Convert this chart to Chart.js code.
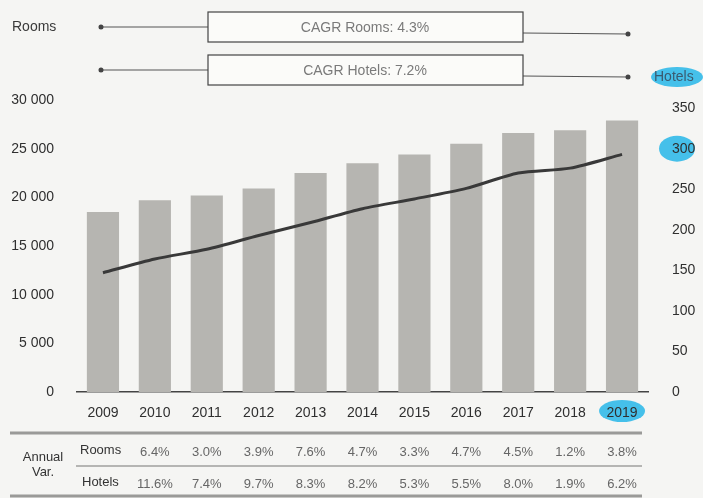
<!DOCTYPE html>
<html>
<head>
<meta charset="utf-8">
<title>Rooms e Hotels</title>
<script src="https://cdn.jsdelivr.net/npm/chart.js"></script>
<style>
    body {
        margin: 0;
        padding: 0;
        background: #f5f5f3;
    }
    #caixa {
        width: 703px;
        height: 498px;
    }
</style>
</head>
<body>
<div id="caixa"><canvas id="grafico" width="703" height="498"></canvas></div>

<script>
// Dados
const anos = ['2009', '2010', '2011', '2012', '2013', '2014', '2015', '2016', '2017', '2018', '2019'];
const quartos = [18500, 19700, 20200, 20900, 22500, 23500, 24400, 25500, 26600, 26900, 27900];
const hoteis = [147, 164, 176, 193, 209, 226, 238, 251, 270, 276, 293];
const varQuartos = ['', '6.4%', '3.0%', '3.9%', '7.6%', '4.7%', '3.3%', '4.7%', '4.5%', '1.2%', '3.8%'];
const varHoteis = ['', '11.6%', '7.4%', '9.7%', '8.3%', '8.2%', '5.3%', '5.5%', '8.0%', '1.9%', '6.2%'];
const ticksQuartos = [0, 5000, 10000, 15000, 20000, 25000, 30000];
const ticksHoteis = [0, 50, 100, 150, 200, 250, 300, 350];
const textoCagrQuartos = 'CAGR Rooms: 4.3%';
const textoCagrHoteis = 'CAGR Hotels: 7.2%';

const fonte = '"Liberation Sans", Arial, sans-serif';
const marcador = 'rgba(38, 182, 232, 0.85)';

function elipse(ctx, x, y, rx, ry) {
    ctx.save();
    ctx.fillStyle = marcador;
    ctx.beginPath();
    ctx.ellipse(x, y, rx, ry, 0, 0, Math.PI * 2);
    ctx.fill();
    ctx.restore();
}

// Plugin: fundo, marcas de marca-texto, caixas CAGR e tabela de variação
const extras = {
    id: 'extras',
    beforeDraw(chart) {
        const ctx = chart.ctx;
        const x = chart.scales.x;
        const yh = chart.scales.yHoteis;
        ctx.save();
        ctx.fillStyle = '#f5f5f3';
        ctx.fillRect(0, 0, chart.width, chart.height);
        ctx.restore();
        // marca-texto sob "300" e "2019"
        elipse(ctx, yh.left + 29, yh.getPixelForValue(300), 18, 13);
        elipse(ctx, x.getPixelForValue(anos.length - 1), x.top + 19, 23, 11);
    },
    afterDraw(chart) {
        const ctx = chart.ctx;
        const x = chart.scales.x;
        ctx.save();

        // títulos dos eixos
        ctx.font = '14px ' + fonte;
        ctx.fillStyle = '#3a3a3a';
        ctx.textBaseline = 'middle';
        ctx.textAlign = 'left';
        ctx.fillText('Rooms', 12, 27);
        elipse(ctx, 677, 77, 26, 10);
        ctx.fillStyle = '#3a5a70';
        ctx.fillText('Hotels', 654, 77);

        // caixas CAGR com linhas e pontos
        const linhas = [[27, textoCagrQuartos], [70, textoCagrHoteis]];
        linhas.forEach(function (l) {
            const y = l[0];
            ctx.strokeStyle = '#555';
            ctx.lineWidth = 1.2;
            ctx.beginPath();
            ctx.moveTo(101, y);
            ctx.lineTo(208, y);
            ctx.moveTo(523, y + 6);
            ctx.lineTo(628, y + 7);
            ctx.stroke();
            ctx.fillStyle = '#444';
            ctx.beginPath();
            ctx.arc(101, y, 2.5, 0, Math.PI * 2);
            ctx.arc(628, y + 7, 2.5, 0, Math.PI * 2);
            ctx.fill();
            ctx.fillStyle = '#fbfbf9';
            ctx.fillRect(208, y - 15, 315, 30);
            ctx.strokeStyle = '#444';
            ctx.strokeRect(208, y - 15, 315, 30);
            ctx.fillStyle = '#7a7a7a';
            ctx.font = '14px ' + fonte;
            ctx.textAlign = 'center';
            ctx.fillText(l[1], 365, y + 1);
            ctx.textAlign = 'left';
        });

        // tabela de variação anual
        ctx.strokeStyle = '#9a9a98';
        ctx.lineWidth = 3;
        ctx.beginPath();
        ctx.moveTo(10, 433);
        ctx.lineTo(642, 433);
        ctx.moveTo(10, 496);
        ctx.lineTo(642, 496);
        ctx.stroke();
        ctx.strokeStyle = '#b5b5b3';
        ctx.lineWidth = 2;
        ctx.beginPath();
        ctx.moveTo(76, 466);
        ctx.lineTo(642, 466);
        ctx.stroke();

        ctx.font = '13px ' + fonte;
        ctx.fillStyle = '#333';
        ctx.textAlign = 'center';
        ctx.fillText('Annual', 43, 457);
        ctx.fillText('Var.', 43, 472);
        ctx.textAlign = 'left';
        ctx.fillText('Rooms', 80, 450);
        ctx.fillText('Hotels', 82, 482);

        ctx.fillStyle = '#666';
        ctx.textAlign = 'center';
        for (let i = 1; i < anos.length; i++) {
            const px = x.getPixelForValue(i);
            ctx.fillText(varQuartos[i], px, 452);
            ctx.fillText(varHoteis[i], px, 484);
        }
        ctx.restore();
    }
};

const ctx = document.getElementById('grafico').getContext('2d');
new Chart(ctx, {
    data: {
        labels: anos,
        datasets: [{
            type: 'line',
            label: 'Hotels',
            data: hoteis,
            yAxisID: 'yHoteis',
            borderColor: '#393939',
            borderWidth: 3,
            pointRadius: 0,
            tension: 0.25,
            order: 0
        }, {
            type: 'bar',
            label: 'Rooms',
            data: quartos,
            yAxisID: 'yQuartos',
            backgroundColor: '#b6b5b1',
            categoryPercentage: 0.62,
            barPercentage: 1,
            order: 1
        }]
    },
    options: {
        responsive: false,
        animation: false,
        layout: {
            padding: { top: 100, bottom: 76, left: 0, right: 0 }
        },
        plugins: {
            legend: { display: false },
            tooltip: { enabled: false }
        },
        scales: {
            x: {
                grid: { display: false },
                border: { display: true, color: '#444', width: 1.5 },
                ticks: {
                    color: '#2f2f2f',
                    font: { family: fonte, size: 14 },
                    padding: 5,
                    maxRotation: 0
                },
                afterFit: function (s) { s.height = 30; }
            },
            yQuartos: {
                position: 'left',
                min: 0,
                max: 30000,
                grid: { display: false },
                border: { display: false },
                afterBuildTicks: function (s) {
                    s.ticks = ticksQuartos.map(function (v) { return { value: v }; });
                },
                ticks: {
                    color: '#2f2f2f',
                    font: { family: fonte, size: 14 },
                    padding: 15,
                    callback: function (v) { return v.toLocaleString('fr-FR').replace(/\s/g, ' '); }
                },
                afterFit: function (s) { s.width = 77; }
            },
            yHoteis: {
                position: 'right',
                min: 0,
                max: 360,
                grid: { display: false },
                border: { display: false },
                afterBuildTicks: function (s) {
                    s.ticks = ticksHoteis.map(function (v) { return { value: v }; });
                },
                ticks: {
                    color: '#2f2f2f',
                    font: { family: fonte, size: 14 },
                    padding: 16
                },
                afterFit: function (s) { s.width = 55; }
            }
        }
    },
    plugins: [extras]
});
</script>
</body>
</html>
